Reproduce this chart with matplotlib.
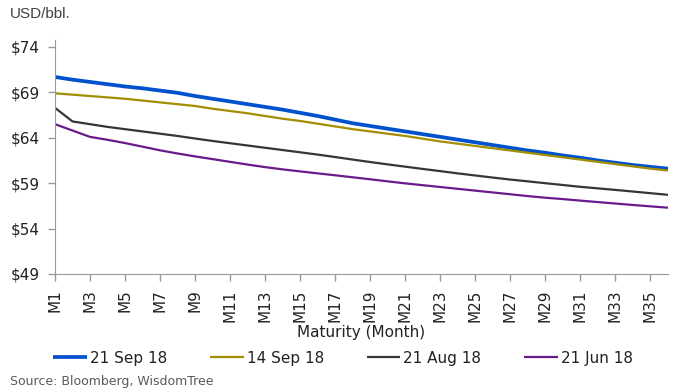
import numpy as np
import matplotlib
matplotlib.use("Agg")
import matplotlib.pyplot as plt

plt.rcParams['font.family'] = ['DejaVu Sans']

months = np.arange(1, 37)
tick_labels = [f"M{m}" for m in months[::2]]

sep21 = [70.7, 70.4, 70.15, 69.9, 69.65, 69.45, 69.2, 68.95, 68.6, 68.3,
         68.0, 67.7, 67.4, 67.1, 66.75, 66.4, 66.0, 65.6, 65.3, 65.0,
         64.7, 64.4, 64.1, 63.8, 63.5, 63.2, 62.9, 62.6, 62.35, 62.05,
         61.8, 61.5, 61.25, 61.0, 60.8, 60.6]
sep14 = [68.9, 68.75, 68.6, 68.45, 68.3, 68.1, 67.9, 67.7, 67.5, 67.2,
         66.95, 66.7, 66.4, 66.1, 65.85, 65.55, 65.25, 64.95, 64.7, 64.45,
         64.2, 63.9, 63.6, 63.35, 63.1, 62.85, 62.6, 62.35, 62.1, 61.85,
         61.6, 61.35, 61.1, 60.85, 60.6, 60.4]
aug21 = [67.3, 65.8, 65.5, 65.2, 64.95, 64.7, 64.45, 64.2, 63.92, 63.65,
         63.4, 63.15, 62.9, 62.65, 62.4, 62.15, 61.88, 61.6, 61.33, 61.07,
         60.82, 60.57, 60.33, 60.08, 59.85, 59.62, 59.4, 59.2, 59.0, 58.8,
         58.6, 58.43, 58.26, 58.08, 57.9, 57.72]
jun21 = [65.5, 64.8, 64.1, 63.78, 63.42, 63.02, 62.62, 62.27, 61.95, 61.65,
         61.35, 61.05, 60.77, 60.52, 60.3, 60.08, 59.87, 59.65, 59.43, 59.2,
         58.98, 58.78, 58.58, 58.38, 58.18, 57.98, 57.78, 57.58, 57.4, 57.25,
         57.08, 56.92, 56.76, 56.6, 56.45, 56.3]

series = [
    ("21 Sep 18", sep21, "#0052CC", 2.7),
    ("14 Sep 18", sep14, "#A38D00", 1.6),
    ("21 Aug 18", aug21, "#363636", 1.6),
    ("21 Jun 18", jun21, "#6A1B8A", 1.6),
]

fig = plt.figure(figsize=(6.79, 3.92), dpi=100)
ax = fig.add_axes([55 / 679, 1 - 274 / 392, 613 / 679, 234 / 392])

for name, vals, col, lw in series:
    ax.plot(months, vals, color=col, lw=lw, label=name, solid_capstyle='butt')

ax.set_xlim(1, 36)
ax.set_ylim(49, 74.77)
ax.set_yticks(np.arange(49, 75, 5))
ax.set_yticklabels([f"${v}" for v in range(49, 75, 5)])
ax.set_xticks(months[::2])
ax.set_xticklabels(tick_labels, rotation=90)

for side in ("top", "right"):
    ax.spines[side].set_visible(False)
for side in ("left", "bottom"):
    ax.spines[side].set_color("#999999")
ax.tick_params(axis="both", colors="#999999", length=5, width=1,
               labelcolor="#222222", labelsize=11)
ax.tick_params(axis="y", pad=6)
ax.tick_params(axis="x", pad=6)

ax.set_xlabel("Maturity (Month)", fontsize=11, color="#222222", labelpad=2)

fig.text(10 / 679, 1 - 14 / 392, "USD/bbl.", fontsize=11, color="#404040",
         family="Liberation Sans", va="center")
fig.text(10 / 679, 1 - 382 / 392, "Source: Bloomberg, WisdomTree",
         fontsize=9, color="#595959", va="center")

fig.legend(loc="center", bbox_to_anchor=(343 / 679, 1 - 358 / 392), ncol=4,
           frameon=False, fontsize=11, handlelength=2.2, handletextpad=0.2,
           columnspacing=2.8, labelcolor="#222222")

fig.savefig("out.png", dpi=100)
